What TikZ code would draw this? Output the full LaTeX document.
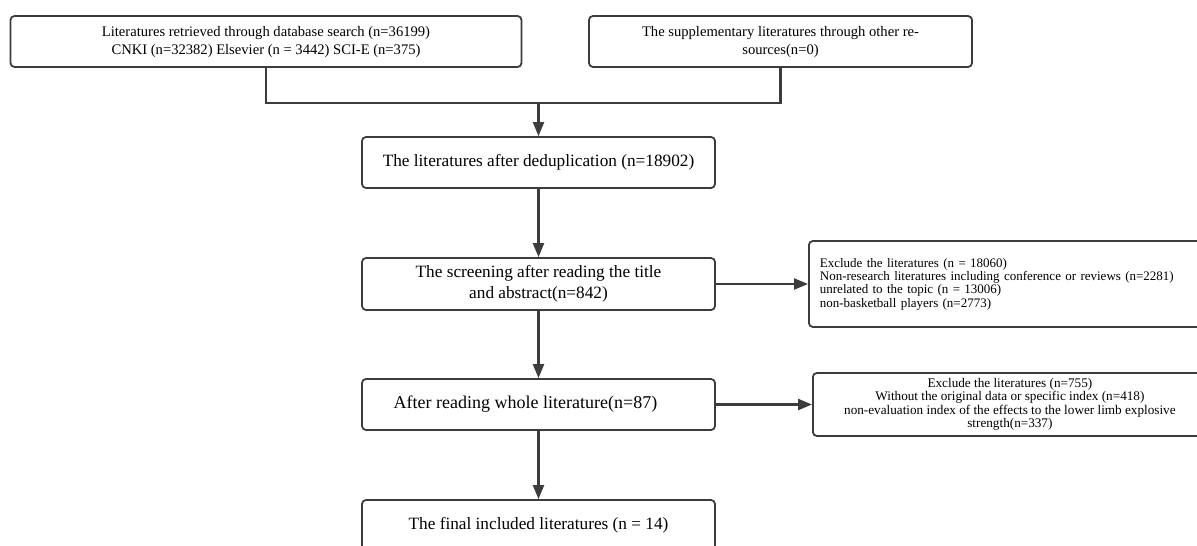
\documentclass[tikz,border=0pt]{standalone}
\usepackage{fontspec}
\setmainfont{Liberation Serif}
\usetikzlibrary{arrows.meta}
\definecolor{linegray}{HTML}{3C3C3C}

\begin{document}
\begin{tikzpicture}[x=1pt, y=-1pt,
  box/.style={draw=linegray, line width=1.8pt, rounded corners=4pt, align=center, minimum height=51pt, inner sep=2pt},
  midbox/.style={box, minimum width=353pt, font=\fontsize{17.25}{21}\selectfont},
  topbox/.style={box, font=\fontsize{14.6}{18}\selectfont},
  sidebox/.style={box, anchor=west, font=\fontsize{13}{13.4}\selectfont},
  joinline/.style={draw=linegray, line width=2.2pt},
  arr/.style={joinline, -{Triangle[length=14pt,width=11pt]}}]
\useasboundingbox (0,0) rectangle (1197,546);

\node[topbox, minimum width=511pt] (lit) at (266,41.5) {Literatures retrieved through database search (n=36199)\\CNKI (n=32382) Elsevier (n = 3442) SCI-E (n=375)};
\node[topbox, minimum width=383pt] (supp) at (780.5,41.5) {The supplementary literatures through other re-\\sources(n=0)};
\node[midbox] (dedup) at (538.5,162.5) {The literatures after deduplication (n=18902)};
\node[midbox, minimum height=52pt] (screen) at (538.5,284) {The screening after reading the title\\and abstract(n=842)};
\node[midbox, font=\fontsize{18}{21}\selectfont] (whole) at (538.5,404.5) {\hspace*{-26pt}After reading whole literature(n=87)};
\node[midbox] (final) at (538.5,525.5) {The final included literatures (n = 14)};

\node[sidebox, minimum width=400pt, minimum height=86pt, text width=378pt, align=left] (excl1) at (808,284) {Exclude the literatures (n = 18060)\\Non-research literatures including conference or reviews (n=2281)\\unrelated to the topic (n = 13006)\\non-basketball players (n=2773)};
\node[sidebox, minimum width=394pt, minimum height=63pt, font=\fontsize{13.2}{13.4}\selectfont] (excl2) at (812,404.5) {Exclude the literatures (n=755)\\Without the original data or specific index (n=418)\\non-evaluation index of the effects to the lower limb explosive\\strength(n=337)};

\coordinate (join) at (538.5,103);
\draw[joinline] (lit.south) |- (join);
\draw[joinline] (supp.south) |- (join);
\draw[arr] (join) -- (dedup);
\draw[arr] (dedup) -- (screen);
\draw[arr] (screen) -- (excl1);
\draw[arr] (screen) -- (whole);
\draw[arr] (whole) -- (excl2);
\draw[arr] (whole) -- (final);
\end{tikzpicture}
\end{document}
